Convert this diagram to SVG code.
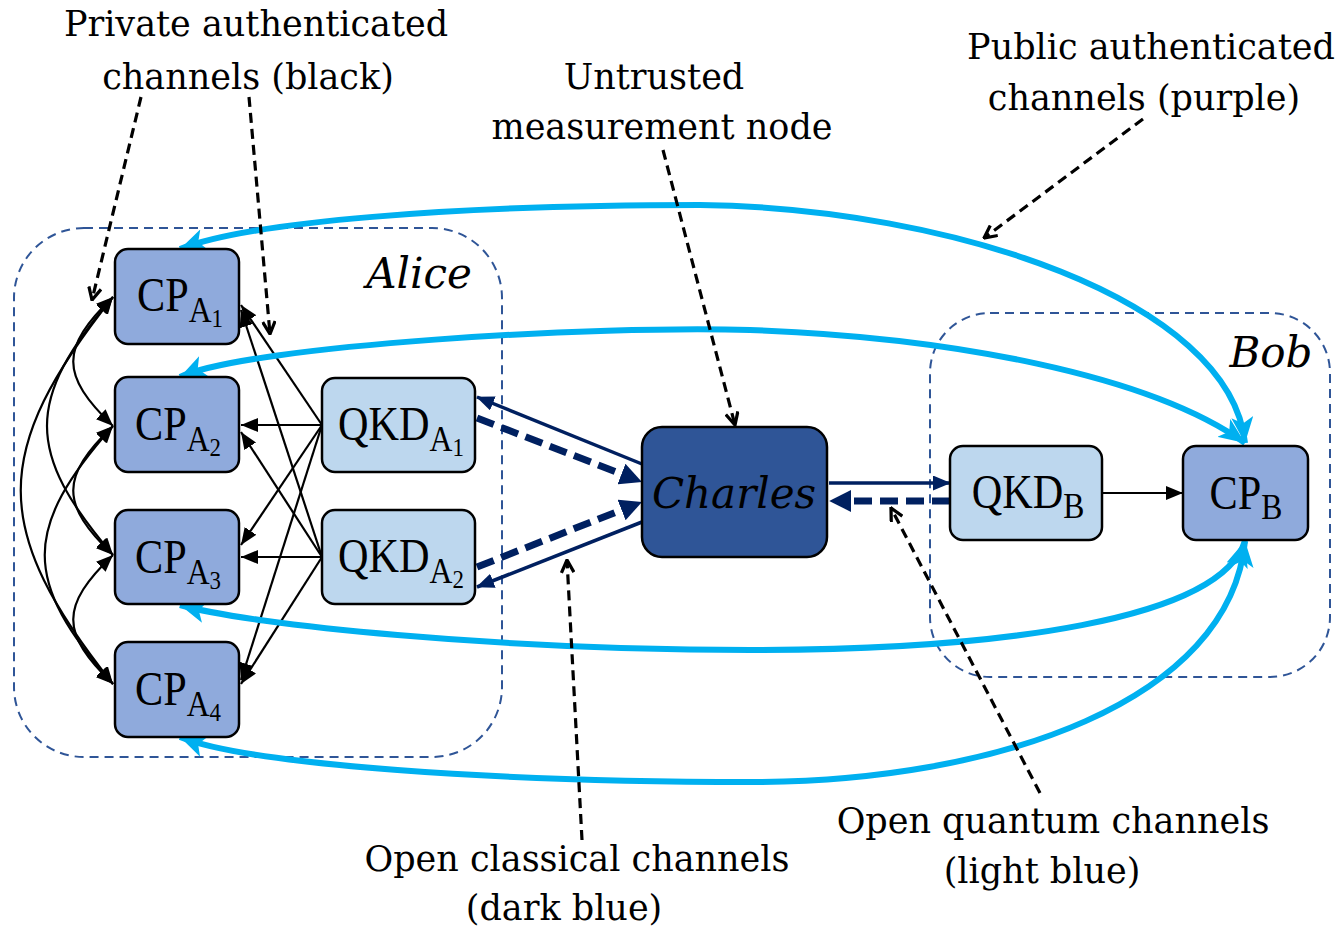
<svg xmlns="http://www.w3.org/2000/svg" width="1344" height="927" viewBox="0 0 1344 927">
<defs>
<style>
.lbl{font-family:"DejaVu Serif","Liberation Serif",serif;font-size:35px;text-anchor:middle;fill:#000}
.it{font-family:"DejaVu Serif","Liberation Serif",serif;font-style:italic;font-size:42px;text-anchor:middle;fill:#000}
.nt{font-family:"Liberation Serif",serif;font-size:48px;text-anchor:middle;fill:#000}
.s1{font-size:36px}
.s2{font-size:26px}
.cp{fill:#8FAADC;stroke:#000;stroke-width:2.5}
.qkd{fill:#BDD7EE;stroke:#000;stroke-width:2.5}
.ch{fill:#2F5597;stroke:#000;stroke-width:2.5}
.grp{fill:none;stroke:#2F5597;stroke-width:2;stroke-dasharray:9 6}
.blk{fill:none;stroke:#000;stroke-width:2.2}
.lb{fill:none;stroke:#00B0F0;stroke-width:6}
.nv{fill:none;stroke:#002060;stroke-width:3.5}
.nvd{fill:none;stroke:#002060;stroke-width:7;stroke-dasharray:18 8}
.ptr{fill:none;stroke:#000;stroke-width:3.2;stroke-dasharray:10 6}
</style>
<marker id="ab" viewBox="0 0 10 10" refX="10" refY="5" markerWidth="17" markerHeight="14" markerUnits="userSpaceOnUse" orient="auto-start-reverse" preserveAspectRatio="none"><path d="M0,0 L10,5 L0,10 z" fill="#000"/></marker>
<marker id="alb" viewBox="0 0 10 10" refX="10" refY="5" markerWidth="26" markerHeight="22" markerUnits="userSpaceOnUse" orient="auto-start-reverse" preserveAspectRatio="none"><path d="M0,0 L10,5 L0,10 L2.5,5 z" fill="#00B0F0"/></marker>
<marker id="anv" viewBox="0 0 10 10" refX="9.5" refY="5" markerWidth="18" markerHeight="15" markerUnits="userSpaceOnUse" orient="auto" preserveAspectRatio="none"><path d="M0,0 L10,5 L0,10 z" fill="#002060"/></marker>
<marker id="anvd" viewBox="0 0 10 10" refX="3" refY="5" markerWidth="22" markerHeight="22" markerUnits="userSpaceOnUse" orient="auto" preserveAspectRatio="none"><path d="M0,0 L10,5 L0,10 z" fill="#002060"/></marker>
<marker id="av" viewBox="0 0 12 12" refX="11" refY="6" markerWidth="15" markerHeight="15" markerUnits="userSpaceOnUse" orient="auto"><path d="M1,1 L11,6 L1,11" fill="none" stroke="#000" stroke-width="2.6"/></marker>
</defs>
<rect width="1344" height="927" fill="#fff"/>

<g id="alice-group">
<rect class="grp" x="14" y="228" width="488" height="529" rx="70"/>
<text class="it" x="419" y="288">Alice</text>
</g>
<g id="bob-group">
<rect class="grp" x="930" y="313" width="400" height="364" rx="60"/>
<text class="it" x="1271" y="367">Bob</text>
</g>

<g id="connectors">
<path class="blk" marker-start="url(#ab)" marker-end="url(#ab)" d="M113,297 C60,348 60,375 113,426"/>
<path class="blk" marker-start="url(#ab)" marker-end="url(#ab)" d="M113,426 C60,477 60,504 113,555"/>
<path class="blk" marker-start="url(#ab)" marker-end="url(#ab)" d="M113,555 C60,606 60,633 113,684"/>
<path class="blk" marker-start="url(#ab)" marker-end="url(#ab)" d="M113,297 C25,400 25,452 113,555"/>
<path class="blk" marker-start="url(#ab)" marker-end="url(#ab)" d="M113,426 C22,529 22,581 113,684"/>
<path class="blk" marker-start="url(#ab)" marker-end="url(#ab)" d="M113,297 C-10,452 -10,529 113,684"/>
<path class="blk" marker-end="url(#ab)" d="M322,425 L241,305"/>
<path class="blk" marker-end="url(#ab)" d="M322,425 L241,425"/>
<path class="blk" marker-end="url(#ab)" d="M322,425 L241,545"/>
<path class="blk" marker-end="url(#ab)" d="M322,425 L241,680"/>
<path class="blk" marker-end="url(#ab)" d="M322,557 L241,310"/>
<path class="blk" marker-end="url(#ab)" d="M322,557 L241,432"/>
<path class="blk" marker-end="url(#ab)" d="M322,557 L241,557"/>
<path class="blk" marker-end="url(#ab)" d="M322,557 L241,684"/>
<path class="blk" marker-end="url(#ab)" d="M1102,493 L1183,493"/>
<path class="nv" marker-end="url(#anv)" d="M642,464 L477,397"/>
<path class="nvd" marker-end="url(#anvd)" d="M477,418 L627.6,476.4"/>
<path class="nvd" marker-end="url(#anvd)" d="M477,567 L627.7,507.6"/>
<path class="nv" marker-end="url(#anv)" d="M642,522 L477,587"/>
<path class="nv" marker-end="url(#anv)" d="M829,483 L950,483"/>
<path class="nvd" marker-end="url(#anvd)" d="M950,501 L844.6,501"/>
<path class="lb" marker-start="url(#alb)" marker-end="url(#alb)" d="M180,249 C250,222 450,205 700,205 C950,208 1230,300 1245,443"/>
<path class="lb" marker-start="url(#alb)" marker-end="url(#alb)" d="M180,377 C250,345 600,325 750,330 C950,337 1150,375 1245,443"/>
<path class="lb" marker-start="url(#alb)" marker-end="url(#alb)" d="M180,605 C250,625 500,650 750,650 C1000,650 1220,620 1245,541"/>
<path class="lb" marker-start="url(#alb)" marker-end="url(#alb)" d="M180,737 C250,765 500,782 750,782 C1000,782 1230,700 1245,541"/>
<path class="ptr" marker-end="url(#av)" d="M141,97 L92,300"/>
<path class="ptr" marker-end="url(#av)" d="M249,97 L270,334"/>
<path class="ptr" marker-end="url(#av)" d="M663,150 L735,425"/>
<path class="ptr" marker-end="url(#av)" d="M1143,119 L984,238"/>
<path class="ptr" marker-end="url(#av)" d="M582,840 L567,560"/>
<path class="ptr" marker-end="url(#av)" d="M1040,793 L891,508"/>
</g>

<g id="cp-a1"><rect class="cp" x="115" y="249" width="124" height="95" rx="13"/>
<text class="nt" transform="translate(180,311) scale(0.88,1)">CP<tspan class="s1" dy="11">A</tspan><tspan class="s2" dy="5">1</tspan></text></g>
<g id="cp-a2"><rect class="cp" x="115" y="377" width="124" height="95" rx="13"/>
<text class="nt" transform="translate(178,440) scale(0.88,1)">CP<tspan class="s1" dy="11">A</tspan><tspan class="s2" dy="5">2</tspan></text></g>
<g id="cp-a3"><rect class="cp" x="115" y="510" width="124" height="94" rx="13"/>
<text class="nt" transform="translate(178,573) scale(0.88,1)">CP<tspan class="s1" dy="11">A</tspan><tspan class="s2" dy="5">3</tspan></text></g>
<g id="cp-a4"><rect class="cp" x="115" y="642" width="124" height="95" rx="13"/>
<text class="nt" transform="translate(178,705) scale(0.88,1)">CP<tspan class="s1" dy="11">A</tspan><tspan class="s2" dy="5">4</tspan></text></g>
<g id="qkd-a1"><rect class="qkd" x="322" y="378" width="153" height="94" rx="13"/>
<text class="nt" transform="translate(401,440) scale(0.88,1)">QKD<tspan class="s1" dy="11">A</tspan><tspan class="s2" dy="5">1</tspan></text></g>
<g id="qkd-a2"><rect class="qkd" x="322" y="510" width="153" height="94" rx="13"/>
<text class="nt" transform="translate(401,572) scale(0.88,1)">QKD<tspan class="s1" dy="11">A</tspan><tspan class="s2" dy="5">2</tspan></text></g>
<g id="charles"><rect class="ch" x="642" y="427" width="185" height="130" rx="20"/>
<text class="it" x="734" y="508">Charles</text></g>
<g id="qkd-b"><rect class="qkd" x="950" y="446" width="152" height="94" rx="13"/>
<text class="nt" transform="translate(1028,508) scale(0.88,1)">QKD<tspan class="s1" dy="10">B</tspan></text></g>
<g id="cp-b"><rect class="cp" x="1183" y="446" width="125" height="94" rx="13"/>
<text class="nt" transform="translate(1246,509) scale(0.88,1)">CP<tspan class="s1" dy="10">B</tspan></text></g>

<g id="labels">
<text class="lbl" x="256" y="36">Private authenticated</text>
<text class="lbl" x="248" y="89">channels (black)</text>
<text class="lbl" x="654" y="89">Untrusted</text>
<text class="lbl" x="662" y="139">measurement node</text>
<text class="lbl" x="1151" y="59">Public authenticated</text>
<text class="lbl" x="1144" y="110">channels (purple)</text>
<text class="lbl" x="577" y="871">Open classical channels</text>
<text class="lbl" x="564" y="920">(dark blue)</text>
<text class="lbl" x="1053" y="833">Open quantum channels</text>
<text class="lbl" x="1042" y="883">(light blue)</text>
</g>
</svg>
